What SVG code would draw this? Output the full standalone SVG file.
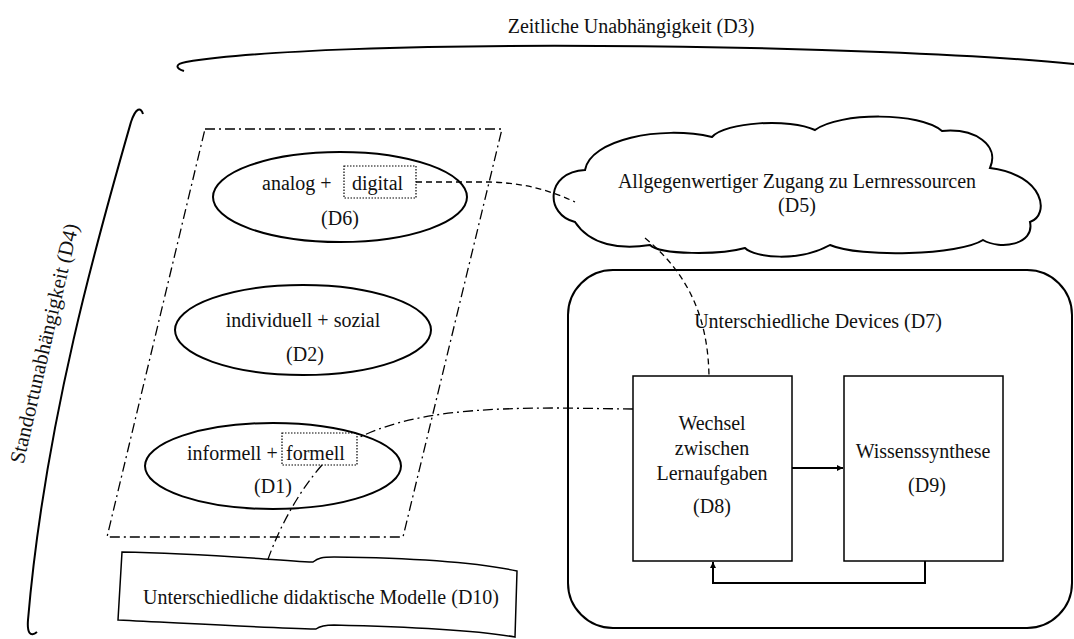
<svg xmlns="http://www.w3.org/2000/svg" width="1074" height="639" viewBox="0 0 1074 639" font-family="'Liberation Serif', 'DejaVu Serif', serif">
<defs>
<style>
text{font-family:'Liberation Serif','DejaVu Serif',serif;font-size:20px;fill:#111;}
.c{text-anchor:middle;}
.o{fill:none;stroke:#000;stroke-width:2;}
.o1{fill:none;stroke:#000;stroke-width:1.5;}
.dot{fill:none;stroke:#000;stroke-width:1.2;stroke-dasharray:1.5 1.5;}
.dd{fill:none;stroke:#000;stroke-width:1.3;stroke-dasharray:10 4 2 4;}
.da{fill:none;stroke:#000;stroke-width:1.3;stroke-dasharray:6 4;}
.ln{fill:none;stroke:#000;stroke-width:2;}
</style>
<marker id="arr" viewBox="0 0 10 10" refX="10" refY="5" markerWidth="6" markerHeight="6" orient="auto" markerUnits="userSpaceOnUse">
<path d="M0,0 L10,5 L0,10 Z" fill="#000"/>
</marker>
</defs>
<rect width="1074" height="639" fill="#fff"/>

<g id="D3">
<path class="o" d="M184,71 C175,68 175,64 186,62 C260,50 420,45 600,46 C800,47 990,55 1074,64"/>
<text class="c" x="631" y="33">Zeitliche Unabhängigkeit (D3)</text>
</g>

<g id="D4">
<path class="o" d="M143,114 C141,107 136,107 131,122 C100,230 45,420 28,620 C27,632 30,638 37,632"/>
<text class="c" style="font-size:21px" transform="translate(51,345) rotate(-77)">Standortunabhängigkeit (D4)</text>
</g>

<g id="group-frame">
<path class="dd" d="M205,129 L502,129 L403,537 L107,537 Z"/>
</g>

<g id="D5">
<path class="o" d="M575,222 C545,215 545,172 585,170 C590,140 660,125 712,137 C725,122 790,118 815,130 C840,112 920,112 942,131 C975,128 1000,145 990,168 C1045,175 1050,215 1030,222 C1035,245 1000,250 983,240 C960,255 860,258 830,245 C800,262 755,258 745,248 C720,255 660,255 650,245 C620,250 590,245 575,222 Z"/>
<text class="c" x="797" y="188">Allgegenwertiger Zugang zu Lernressourcen</text>
<text class="c" x="797" y="212">(D5)</text>
</g>

<g id="D7">
<rect class="o" x="568" y="270" width="504" height="358" rx="45" ry="45"/>
<text class="c" x="818" y="328">Unterschiedliche Devices (D7)</text>
</g>

<g id="D10">
<path class="o1" fill="#fff" d="M122,552 C200,553 270,560 313,562 C318,558 322,557 334,557 C420,558 480,563 517,571 L515,637 C480,631 420,627 334,625 C324,625 320,626 316,629 C270,628 200,624 118,620 Z"/>
<text class="c" x="321" y="604">Unterschiedliche didaktische Modelle (D10)</text>
</g>

<g id="connectors">
<path class="da" d="M416,182 L490,182 C520,183 545,188 575,202"/>
<path class="da" d="M645,238 C690,275 708,320 709,376"/>
<path class="dd" d="M633,409 L560,408 C480,408 410,412 358,438"/>
<path class="dd" d="M322,465 C300,490 280,525 267,562"/>
<path class="ln" d="M792,468 L843,468" marker-end="url(#arr)"/>
<path class="ln" d="M925,561 L925,583 L713,583 L713,562" marker-end="url(#arr)"/>
</g>

<g id="D6">
<ellipse class="o" cx="340" cy="197" rx="127" ry="45"/>
<text x="262" y="190">analog  +</text>
<rect class="dot" x="344" y="166" width="72" height="32"/>
<text x="352" y="190">digital</text>
<text class="c" x="340" y="225">(D6)</text>
</g>

<g id="D2">
<ellipse class="o" cx="303" cy="330" rx="128" ry="45"/>
<text class="c" x="303" y="327">individuell + sozial</text>
<text class="c" x="305" y="361">(D2)</text>
</g>

<g id="D1">
<ellipse class="o" cx="273" cy="466" rx="128" ry="43"/>
<text x="187" y="460">informell +</text>
<rect class="dot" x="282" y="433" width="75" height="32"/>
<text x="286" y="460">formell</text>
<text class="c" x="273" y="493">(D1)</text>
</g>

<g id="D8">
<rect class="o1" x="633" y="376" width="159" height="185" fill="#fff"/>
<text class="c" x="712" y="430">Wechsel</text>
<text class="c" x="712" y="455">zwischen</text>
<text class="c" x="712" y="480">Lernaufgaben</text>
<text class="c" x="712" y="513">(D8)</text>
</g>

<g id="D9">
<rect class="o1" x="844" y="376" width="159" height="185" fill="#fff"/>
<text class="c" x="923" y="458">Wissenssynthese</text>
<text class="c" x="927" y="492">(D9)</text>
</g>
</svg>
